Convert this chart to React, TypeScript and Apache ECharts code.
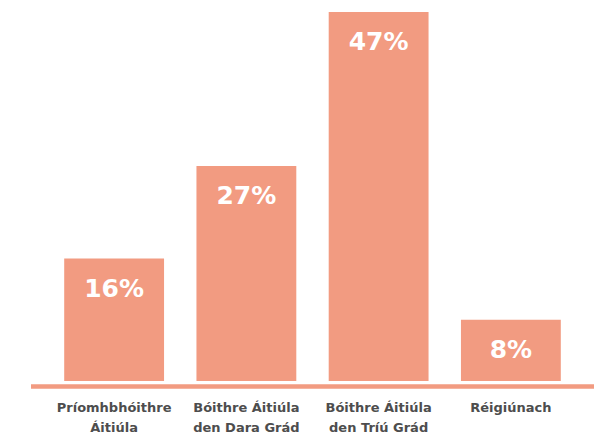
import React, { useEffect, useRef } from "react";
import * as echarts from "echarts";

const categories = [
  "Príomhbhóithre\nÁitiúla",
  "Bóithre Áitiúla\nden Dara Grád",
  "Bóithre Áitiúla\nden Tríú Grád",
  "Réigiúnach",
];
const shares = [15.6, 27.4, 47, 7.8];

const BAR = "#F29B81";

export default function App() {
  const ref = useRef<HTMLDivElement>(null);
  useEffect(() => {
    if (!ref.current) return;
    const chart = echarts.init(ref.current, null, { renderer: "svg" });
    chart.setOption({
      animation: false,
      grid: { left: 48, right: 17, top: 12, bottom: 50.5 },
      xAxis: {
        type: "category",
        data: categories,
        axisLine: { show: false },
        axisTick: { show: false },
        axisLabel: {
          margin: 16,
          color: "#4d4d4d",
          fontFamily: "DejaVu Sans",
          fontWeight: "bold",
          fontSize: 13,
          lineHeight: 20,
          interval: 0,
        },
      },
      yAxis: {
        type: "value",
        min: 0,
        max: 47,
        show: false,
        splitLine: { show: false },
      },
      graphic: [
        {
          type: "rect",
          shape: { x: 31, y: 384.3, width: 563, height: 4.5 },
          style: { fill: BAR },
          z: 10,
        },
      ],
      series: [
        {
          type: "bar",
          data: shares,
          barCategoryGap: "24.5%",
          itemStyle: { color: BAR },
          label: {
            show: true,
            position: "insideTop",
            distance: 17,
            color: "#ffffff",
            fontFamily: "DejaVu Sans",
            fontWeight: "bold",
            fontSize: 25,
            lineHeight: 25,
            formatter: (p: any) => `${Math.round(p.value)}%`,
          },
        },
      ],
    });
    return () => chart.dispose();
  }, []);
  return (
    <div
      ref={ref}
      style={{ position: "fixed", left: 0, top: 0, width: 594, height: 437, background: "#fff" }}
    />
  );
}
